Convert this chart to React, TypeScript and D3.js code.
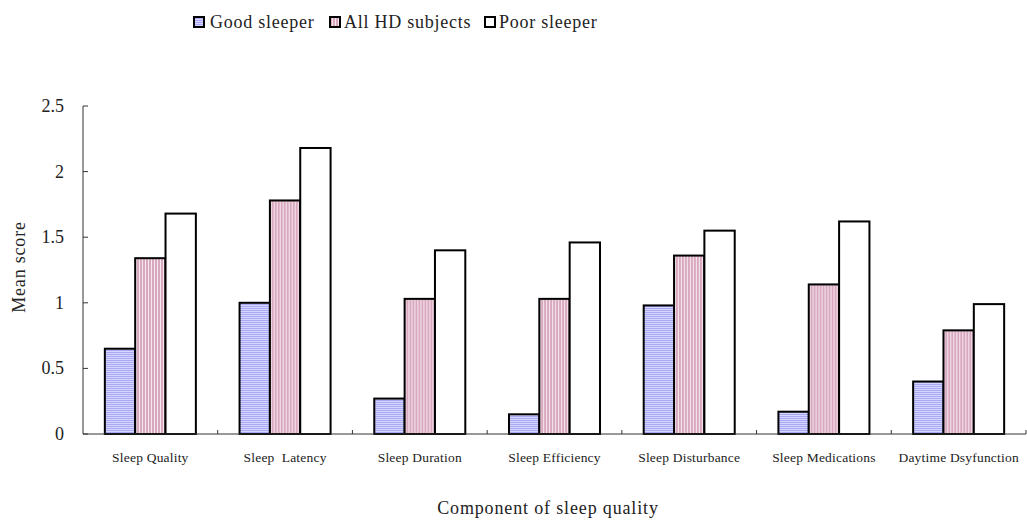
import React from "react";
import * as d3 from "d3";

const categories = [
  "Sleep Quality",
  "Sleep  Latency",
  "Sleep Duration",
  "Sleep Efficiency",
  "Sleep Disturbance",
  "Sleep Medications",
  "Daytime Dsyfunction",
];
const seriesNames = ["Good sleeper", "All HD subjects", "Poor sleeper"];
const goodSleeper = [0.65, 1.0, 0.27, 0.15, 0.98, 0.17, 0.4];
const allHD = [1.34, 1.78, 1.03, 1.03, 1.36, 1.14, 0.79];
const poorSleeper = [1.68, 2.18, 1.4, 1.46, 1.55, 1.62, 0.99];
const yTicks = [0, 0.5, 1, 1.5, 2, 2.5];

const W = 1027;
const H = 523;
const left = 83;
const right = 1026;
const top = 106;
const bottom = 434;
const FONT = "Liberation Serif, DejaVu Serif, serif";

export default function App() {
  const series = [goodSleeper, allHD, poorSleeper];
  const fills = ["url(#pGood)", "url(#pAll)", "#ffffff"];
  const x0 = d3.scaleBand<string>().domain(categories).range([left, right]).paddingInner(0).paddingOuter(0);
  const x1 = d3
    .scaleBand<string>()
    .domain(seriesNames)
    .range([0, x0.bandwidth()])
    .paddingOuter(0.72)
    .paddingInner(0);
  const y = d3.scaleLinear().domain([0, 2.5]).range([bottom, top]);

  const legendItems = [
    { x: 193, tx: 210 },
    { x: 329, tx: 344 },
    { x: 484, tx: 499 },
  ];

  return (
    <svg width={W} height={H} style={{ position: "absolute", left: 0, top: 0, background: "#fff" }}>
      <defs>
        <pattern id="pGood" width="4" height="2" patternUnits="userSpaceOnUse">
          <rect width="4" height="2" fill="#d6d6ff" />
          <rect width="4" height="1" fill="#a8a8f4" />
        </pattern>
        <pattern id="pAll" width="3" height="4" patternUnits="userSpaceOnUse">
          <rect width="3" height="4" fill="#f6e8ef" />
          <rect width="2" height="4" fill="#d8a8bf" />
        </pattern>
      </defs>
      <rect width={W} height={H} fill="#fff" />

      {/* legend */}
      {legendItems.map((l, i) => (
        <g key={i}>
          <rect x={l.x + 1} y={17} width={10} height={10} fill={fills[i]} stroke="#000" strokeWidth={2} />
          <text x={l.tx} y={28} fontFamily={FONT} fontSize={18} letterSpacing={0.75} fill="#222">
            {seriesNames[i]}
          </text>
        </g>
      ))}

      {/* bars */}
      {categories.map((c, ci) => (
        <g key={c} transform={`translate(${x0(c)},0)`}>
          {series.map((s, si) => (
            <rect
              key={si}
              x={x1(seriesNames[si])}
              y={y(s[ci])}
              width={x1.bandwidth()}
              height={bottom - y(s[ci])}
              fill={fills[si]}
              stroke="#000"
              strokeWidth={2}
            />
          ))}
        </g>
      ))}

      {/* y axis */}
      <line x1={left} x2={left} y1={top} y2={bottom} stroke="#333" strokeWidth={1} />
      {yTicks.map((t) => (
        <g key={t}>
          <line x1={left} x2={left + 5} y1={y(t)} y2={y(t)} stroke="#333" />
          <text
            x={64}
            y={y(t) + 6}
            textAnchor="end"
            fontFamily={FONT}
            fontSize={18}
            fill="#222"
          >
            {t}
          </text>
        </g>
      ))}

      {/* x axis */}
      <line x1={left} x2={right} y1={bottom} y2={bottom} stroke="#333" strokeWidth={1} />
      {categories.map((c, i) =>
        i === 0 ? null : (
          <line key={c} x1={x0(c)} x2={x0(c)} y1={bottom} y2={bottom - 4} stroke="#333" />
        )
      )}
      <line x1={right} x2={right} y1={bottom} y2={bottom - 4} stroke="#333" />
      {categories.map((c) => (
        <text
          key={c}
          x={(x0(c) as number) + x0.bandwidth() / 2}
          y={462}
          textAnchor="middle"
          fontFamily={FONT}
          fontSize={13.5}
          letterSpacing={0.2}
          fill="#222"
          style={{ whiteSpace: "pre" }}
        >
          {c}
        </text>
      ))}

      <text
        x={548}
        y={514}
        textAnchor="middle"
        fontFamily={FONT}
        fontSize={18}
        letterSpacing={0.85}
        fill="#222"
      >
        Component of sleep quality
      </text>
      <text
        transform={`translate(25,267) rotate(-90)`}
        textAnchor="middle"
        fontFamily={FONT}
        fontSize={18}
        letterSpacing={0.8}
        fill="#222"
      >
        Mean score
      </text>
    </svg>
  );
}
